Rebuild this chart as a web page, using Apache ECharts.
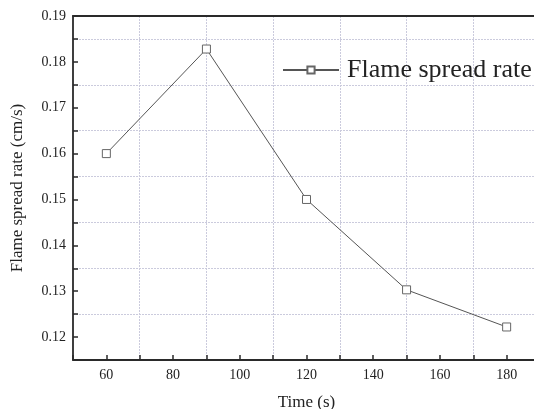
<!DOCTYPE html>
<html>
<head>
<meta charset="utf-8">
<script src="https://cdn.jsdelivr.net/npm/echarts@6/dist/echarts.min.js"></script>
<style>html,body{margin:0;padding:0;background:#fff}#c{width:534px;height:409px}</style>
</head>
<body>
<div id="c"></div>
<script>
var timeValues = [60, 90, 120, 150, 180];
var spreadRate = [0.160, 0.1828, 0.150, 0.1303, 0.1222];
var seriesName = 'Flame spread rate';
var xTickLabels = [60, 80, 100, 120, 140, 160, 180];
var yTickLabels = ['0.12', '0.13', '0.14', '0.15', '0.16', '0.17', '0.18', '0.19'];

var FONT = 'Liberation Serif';
var chart = echarts.init(document.getElementById('c'), null, {renderer: 'canvas'});
var gridColor = '#cbcbdd';
var axisColor = '#2a2a2a';
var pts = timeValues.map(function (t, i) { return [t, spreadRate[i]]; });

chart.setOption({
  animation: false,
  backgroundColor: '#fff',
  grid: {left: 73, top: 16, right: -6, bottom: 49, containLabel: false, outerBoundsMode: 'none'},
  legend: {
    left: 282, top: 57, padding: 0,
    itemWidth: 56, itemHeight: 9,
    data: [seriesName],
    textStyle: {fontFamily: FONT, fontSize: 26, color: '#222', padding: [0, 0, 0, 3]}
  },
  xAxis: [{
    type: 'value', min: 50, max: 190, interval: 10,
    name: 'Time (s)', nameLocation: 'middle', nameGap: 34,
    nameTextStyle: {fontFamily: FONT, fontSize: 17, color: '#222'},
    axisLine: {show: true, onZero: false, lineStyle: {color: axisColor, width: 1.8}},
    axisTick: {show: true, inside: true, length: 5, lineStyle: {color: axisColor, width: 1.5}},
    axisLabel: {
      fontFamily: FONT, fontSize: 14, color: '#222', margin: 8,
      formatter: function (v) {
        var r = Math.round(v);
        return xTickLabels.indexOf(r) >= 0 && Math.abs(r - v) < 1e-6 ? String(r) : '';
      }
    },
    splitLine: {show: false}
  }, {
    type: 'value', min: 50, max: 190, interval: 20, position: 'top',
    axisLine: {show: true, onZero: false, lineStyle: {color: axisColor, width: 1.8}},
    axisTick: {show: false}, axisLabel: {show: false},
    splitLine: {show: true, showMinLine: false, showMaxLine: false,
      lineStyle: {color: gridColor, type: [2, 1], width: 1}}
  }],
  yAxis: [{
    type: 'value', min: 0.115, max: 0.19, interval: 0.005,
    name: 'Flame spread rate (cm/s)', nameLocation: 'middle', nameGap: 47,
    nameTextStyle: {fontFamily: FONT, fontSize: 17, color: '#222'},
    axisLine: {show: true, onZero: false, lineStyle: {color: axisColor, width: 1.8}},
    axisTick: {show: true, inside: true, length: 5, lineStyle: {color: axisColor, width: 1.5}},
    axisLabel: {
      fontFamily: FONT, fontSize: 14, color: '#222', margin: 7,
      formatter: function (v) {
        var s = v.toFixed(2);
        return (Math.abs(parseFloat(s) - v) < 1e-6 && yTickLabels.indexOf(s) >= 0) ? s : '';
      }
    },
    splitLine: {show: false}
  }, {
    type: 'value', min: 0.115, max: 0.19, interval: 0.01, position: 'left',
    axisLine: {show: false}, axisTick: {show: false}, axisLabel: {show: false},
    splitLine: {show: true, showMinLine: false, showMaxLine: false,
      lineStyle: {color: gridColor, type: [2, 1], width: 1}}
  }],
  series: [{
    name: seriesName, type: 'line', data: pts,
    xAxisIndex: 0, yAxisIndex: 0,
    symbol: 'rect', symbolSize: 8,
    lineStyle: {color: '#555', width: 1},
    itemStyle: {color: '#fff', borderColor: '#666', borderWidth: 1}
  }]
});
</script>
</body>
</html>
